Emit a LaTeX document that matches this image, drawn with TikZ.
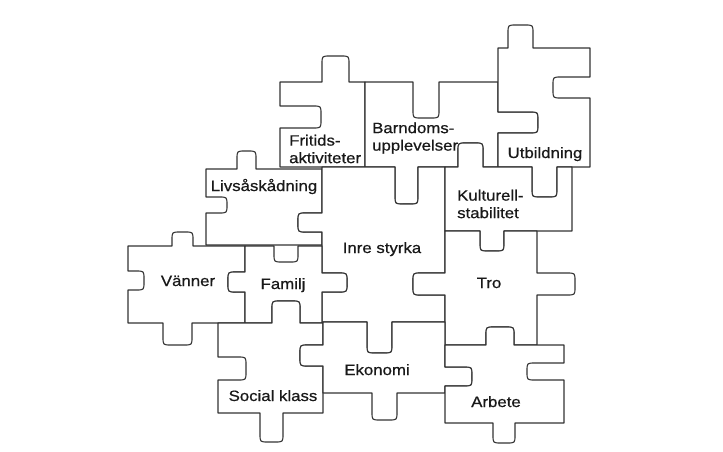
\documentclass[tikz,border=0pt]{standalone}
\usepackage{fontspec}
\setmainfont{Liberation Sans}[FakeStretch=1.12,FakeBold=0.6]
\newcommand{\pzr}{8}
% vertical tab/notch on a horizontal edge: x1, x2, edge y, tip y
\newcommand{\pzV}[4]{-- (#1,#3) -- (#1,{#4-\pzr*sign(#4-#3)}) .. controls (#1,#4) .. ({#1+\pzr*sign(#2-#1)},#4) -- ({#2-\pzr*sign(#2-#1)},#4) .. controls (#2,#4) .. (#2,{#4-\pzr*sign(#4-#3)}) -- (#2,#3)}
% horizontal tab/notch on a vertical edge: y1, y2, edge x, tip x
\newcommand{\pzH}[4]{-- (#3,#1) -- ({#4-\pzr*sign(#4-#3)},#1) .. controls (#4,#1) .. (#4,{#1+\pzr*sign(#2-#1)}) -- (#4,{#2-\pzr*sign(#2-#1)}) .. controls (#4,#2) .. ({#4-\pzr*sign(#4-#3)},#2) -- (#3,#2)}
\tikzset{
  piece/.style={draw=black!80, line width=1.1pt, fill=white, line join=round},
  lbl/.style={inner sep=0pt, font=\fontsize{15}{17.5}\selectfont, text=black!90},
  lbl2/.style={lbl, align=left, anchor=west}
}
\begin{document}
\begin{tikzpicture}[x=1pt,y=-1pt]
\useasboundingbox[fill=white] (0,0) rectangle (723,452);
% Fritidsaktiviteter
\draw[piece] (280,82) \pzV{322}{349}{82}{56} -- (365,82) -- (365,167) -- (280,167) \pzH{128}{106}{280}{321} -- cycle;
% Barndomsupplevelser
\draw[piece] (365,82) \pzV{413}{439}{82}{118} -- (498,82) \pzH{112}{133}{498}{538} -- (498,167) \pzV{483}{458}{167}{143} \pzV{418}{395}{167}{204} -- (365,167) -- cycle;
% Utbildning
\draw[piece] (498,48) \pzV{508}{533}{48}{25} -- (590,48) \pzH{77}{98}{590}{553} -- (590,167) \pzV{557}{532}{167}{197} -- (498,167) \pzH{133}{112}{498}{538} -- cycle;
% Livsaskadning
\draw[piece] (206,169) \pzV{237}{256}{169}{151} -- (322,169) \pzH{213}{232}{322}{298} -- (322,245) -- (206,245) \pzH{213}{197}{206}{227} -- cycle;
% Inre styrka
\draw[piece] (322,167) \pzV{395}{418}{167}{204} -- (445,167) \pzH{273}{295}{445}{413} -- (445,322) \pzV{392}{367}{322}{353} -- (322,322) \pzH{292}{273}{322}{347} \pzH{232}{213}{322}{298} -- cycle;
% Kulturell stabilitet
\draw[piece] (445,167) \pzV{458}{483}{167}{143} \pzV{532}{557}{167}{197} -- (572,167) -- (572,231) \pzV{504}{480}{231}{251} -- (445,231) -- cycle;
% Vanner
\draw[piece] (128,246) \pzV{172}{193}{246}{232} -- (245,246) \pzH{272}{292}{245}{228} -- (245,323) \pzV{192}{163}{323}{345} -- (128,323) \pzH{290}{271}{128}{144} -- cycle;
% Familj
\draw[piece] (245,246) \pzV{274}{298}{246}{262} -- (322,246) \pzH{273}{292}{322}{347} -- (322,323) \pzV{300}{272}{323}{301} -- (245,323) \pzH{292}{272}{245}{228} -- cycle;
% Tro
\draw[piece] (445,231) \pzV{480}{504}{231}{251} -- (537,231) \pzH{273}{295}{537}{575} -- (537,345) \pzV{514}{486}{345}{327} -- (445,345) \pzH{295}{273}{445}{413} -- cycle;
% Social klass
\draw[piece] (218,323) \pzV{272}{300}{323}{301} -- (323,323) \pzH{345}{366}{323}{300} -- (323,413) \pzV{283}{260}{413}{442} -- (218,413) \pzH{380}{357}{218}{246} -- cycle;
% Ekonomi
\draw[piece] (323,322) \pzV{367}{392}{322}{353} -- (445,322) \pzH{367}{386}{445}{472} -- (445,393) \pzV{397}{372}{393}{420} -- (323,393) \pzH{366}{345}{323}{300} -- cycle;
% Arbete
\draw[piece] (445,345) \pzV{486}{514}{345}{327} -- (564,345) \pzH{363}{380}{564}{527} -- (564,423) \pzV{515}{493}{423}{443} -- (445,423) \pzH{386}{367}{445}{472} -- cycle;
% labels
\node[lbl2] (fritids) at (289,149) {Fritids-\\aktiviteter};
\node[lbl2] (barndoms) at (372,138) {Barndoms-\\upplevelser};
\node[lbl2] (kulturell) at (457,204) {Kulturell-\\stabilitet};
\node[lbl, anchor=base] (livs) at (264,191) {Livsåskådning};
\node[lbl, anchor=base] (utb) at (545,158) {Utbildning};
\node[lbl, anchor=base] (inre) at (382,253) {Inre styrka};
\node[lbl, anchor=base] (vanner) at (188,286) {Vänner};
\node[lbl, anchor=base] (familj) at (283,289) {Familj};
\node[lbl, anchor=base] (tro) at (489,288) {Tro};
\node[lbl, anchor=base] (ekonomi) at (377,375) {Ekonomi};
\node[lbl, anchor=base] (social) at (273,401) {Social klass};
\node[lbl, anchor=base] (arbete) at (496,407) {Arbete};
\end{tikzpicture}
\end{document}
